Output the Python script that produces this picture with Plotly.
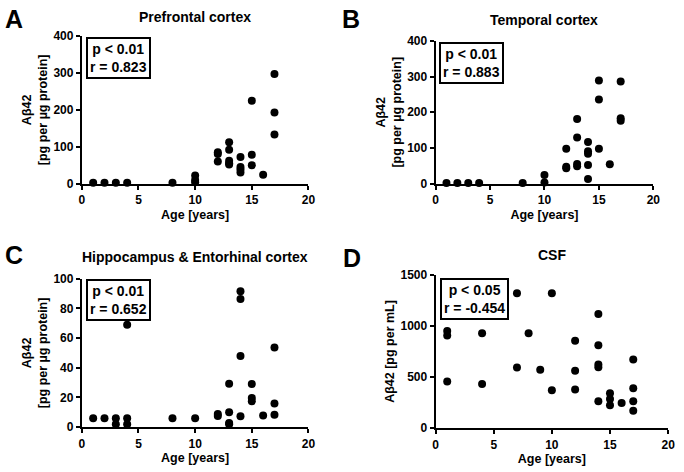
import plotly.graph_objects as go

# Panel A - prefrontal cortex
pfc_age = [1, 2, 3, 4, 8, 10, 10, 10, 12, 12, 12, 13, 13, 13, 13, 13,
           14, 14, 14, 14, 15, 15, 15, 16, 17, 17, 17]
pfc_ab42 = [2, 2, 2, 2, 2, 22, 10, 4, 85, 80, 60, 112, 92, 62, 55, 52,
            72, 45, 38, 30, 225, 78, 50, 24, 297, 193, 133]

# Panel B - temporal cortex
tc_age = [1, 2, 3, 4, 8, 10, 10, 12, 12, 12, 13, 13, 13, 13,
          14, 14, 14, 14, 14, 15, 15, 15, 16, 17, 17, 17]
tc_ab42 = [2, 2, 2, 2, 2, 24, 3, 98, 47, 43, 181, 129, 55, 49,
           117, 91, 84, 52, 13, 289, 236, 98, 54, 286, 183, 176]

# Panel C - hippocampus & entorhinal cortex
hc_age = [1, 2, 3, 3, 4, 4, 4, 8, 10, 12, 12, 13, 13, 13, 13,
          14, 14, 14, 14, 15, 15, 15, 16, 17, 17, 17]
hc_ab42 = [6, 6, 6, 2, 69, 6, 2, 6, 6, 8.8, 7.5, 29.3, 10, 2.8, 2,
           91.5, 86.4, 48, 7.4, 29, 19.7, 17.5, 7.9, 53.6, 16, 8.3]

# Panel D - CSF
csf_age = [1, 1, 1, 4, 4, 7, 7, 8, 9, 10, 10, 12, 12, 12,
           14, 14, 14, 14, 14, 15, 15, 15, 16, 17, 17, 17, 17]
csf_ab42 = [951, 907, 455, 929, 431, 1319, 592, 929, 572, 1319, 370, 856, 561, 378,
            1116, 812, 622, 596, 262, 340, 285, 225, 245, 672, 390, 262, 170]

panels = [
    ("A", "Prefrontal cortex", pfc_age, pfc_ab42, [0, 400], 100,
     "Aβ42<br>[pg per µg protein]", "p < 0.01<br>r = 0.823"),
    ("B", "Temporal cortex", tc_age, tc_ab42, [0, 400], 100,
     "Aβ42<br>[pg per µg protein]", "p < 0.01<br>r = 0.883"),
    ("C", "Hippocampus & Entorhinal cortex", hc_age, hc_ab42, [0, 100], 20,
     "Aβ42<br>[pg per µg protein]", "p < 0.01<br>r = 0.652"),
    ("D", "CSF", csf_age, csf_ab42, [0, 1500], 500,
     "Aβ42 [pg per mL]", "p < 0.05<br>r = -0.454"),
]

W, H = 684, 472
# plot areas in pixels: left, right, top, bottom
boxes = [(80, 310, 30, 182), (439, 660, 35, 182), (80, 310, 280, 433), (439, 675, 276, 434)]
stat_pos = [(117, 53), (475, 58), (117, 302), (479, 301)]
letter_pos = [(0, 12), (342, 12), (0, 256), (343, 259)]   # left edge, vertical centre
title_y = [10, 13, 258, 256]                               # vertical centre

FONT = "Liberation Sans, Arial, sans-serif"

fig = go.Figure()
for i, (letter, title, xs, ys, yr, dt, ytitle, stat) in enumerate(panels):
    n = "" if i == 0 else str(i + 1)
    l, r, t, b = boxes[i]
    fig.add_trace(go.Scatter(
        x=xs, y=ys, mode="markers", xaxis="x" + n, yaxis="y" + n,
        marker=dict(color="black", size=8), cliponaxis=False, showlegend=False,
    ))
    axis_common = dict(
        showline=True, linecolor="black", linewidth=2, showgrid=False, zeroline=False,
        ticks="outside", ticklen=4, tickwidth=2, tickcolor="black",
        tickfont=dict(family=FONT, size=12, color="black", weight="bold"),
    )
    fig.layout["xaxis" + n] = dict(
        axis_common, domain=[l / W, r / W], range=[0, 20], dtick=5,
        anchor="y" + n,
        title=dict(text="Age [years]", font=dict(family=FONT, size=12.5, color="black", weight="bold"),
                   standoff=4),
    )
    fig.layout["yaxis" + n] = dict(
        axis_common, domain=[1 - b / H, 1 - t / H], range=yr, dtick=dt,
        anchor="x" + n,
        title=dict(text=ytitle, font=dict(family=FONT, size=12.5, color="black", weight="bold"),
                   standoff=3),
    )
    cx = (l + r) / 2
    fig.add_annotation(x=cx / W, y=1 - title_y[i] / H, xref="paper", yref="paper",
                       text=title, showarrow=False, xanchor="center", yanchor="middle",
                       font=dict(family=FONT, size=14, color="black", weight="bold"))
    lx, ly = letter_pos[i]
    fig.add_annotation(x=lx / W, y=1 - ly / H, xref="paper", yref="paper",
                       text=letter, showarrow=False, xanchor="left", yanchor="middle",
                       font=dict(family=FONT, size=25, color="black", weight="bold"))
    sx, sy = stat_pos[i]
    fig.add_annotation(x=sx / W, y=1 - sy / H, xref="paper", yref="paper",
                       text=stat, showarrow=False, xanchor="center", yanchor="middle",
                       align="center", bordercolor="black", borderwidth=2, borderpad=2,
                       bgcolor="white",
                       font=dict(family=FONT, size=14, color="black", weight="bold"))

fig.update_layout(
    width=W, height=H, margin=dict(l=0, r=0, t=0, b=0),
    paper_bgcolor="white", plot_bgcolor="white",
)
# the page body has an 8px default margin; drop it so the figure sits at the corner
fig.write_html("out.html", config={"displayModeBar": False},
               post_script="document.body.style.margin='0';")
